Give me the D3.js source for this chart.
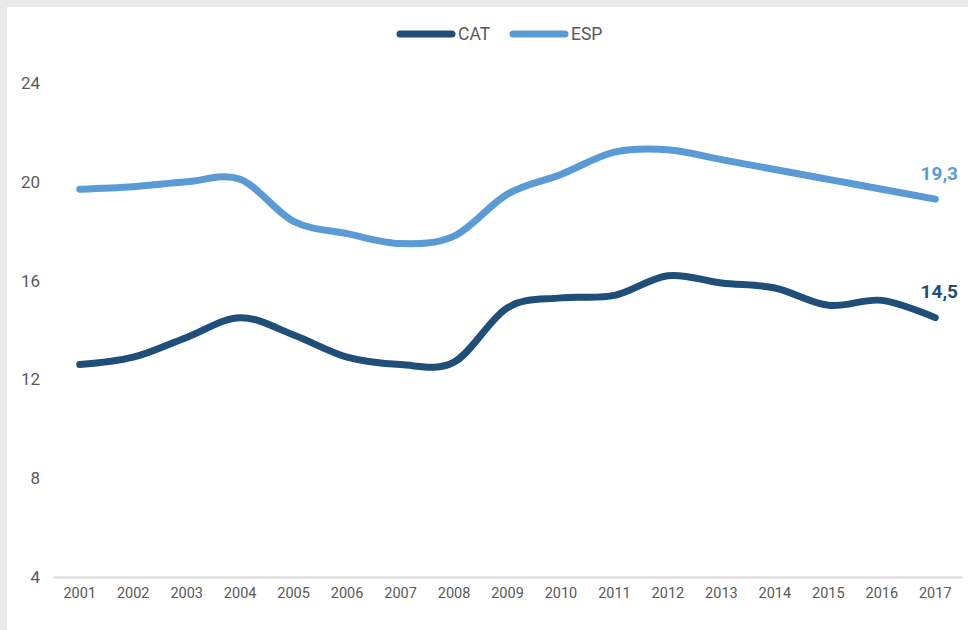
<!DOCTYPE html>
<html>
<head>
<meta charset="utf-8">
<script src="https://cdn.jsdelivr.net/npm/d3@7"></script>
<style>
  html, body { margin: 0; padding: 0; background: #e8eaea; }
  svg { display: block; }
</style>
</head>
<body>
<svg id="chart" width="968" height="630"></svg>
<script>
const years = ["2001","2002","2003","2004","2005","2006","2007","2008","2009","2010","2011","2012","2013","2014","2015","2016","2017"];
const cat = [12.6, 12.9, 13.7, 14.5, 13.8, 12.9, 12.6, 12.7, 14.9, 15.3, 15.4, 16.2, 15.9, 15.7, 15.0, 15.2, 14.5];
const esp = [19.7, 19.8, 20.0, 20.1, 18.4, 17.9, 17.5, 17.8, 19.5, 20.3, 21.2, 21.3, 20.9, 20.5, 20.1, 19.7, 19.3];
const yTicks = [4, 8, 12, 16, 20, 24];
const seriesNames = ["CAT", "ESP"];
const colors = ["#1f4e79", "#5b9bd5"];

const svg = d3.select("#chart");
const W = 968, H = 630;
const font = "Roboto, 'DejaVu Sans', sans-serif";

// white plotting card with gray strips at top/left
svg.append("rect").attr("x", 7).attr("y", 7).attr("width", W - 7).attr("height", H - 7).attr("fill", "#ffffff");

const x = d3.scaleBand().domain(years).range([53, 962]);
const y = d3.scaleLinear().domain([4, 24]).range([577, 83]);
const cx = d => x(d) + x.bandwidth() / 2;

// y axis labels (no axis line)
const yAxis = d3.axisLeft(y).tickValues(yTicks).tickSize(0).tickPadding(0);
const yg = svg.append("g").attr("transform", "translate(40,0)").call(yAxis);
yg.select(".domain").remove();
yg.selectAll("text").attr("font-family", font).attr("font-size", 17).attr("fill", "#595959");

// x axis
const xAxis = d3.axisBottom(x).tickSize(0).tickPadding(11);
const xg = svg.append("g").attr("transform", "translate(0,577)").call(xAxis);
xg.select(".domain").attr("stroke", "#d9d9d9").attr("stroke-width", 2);
xg.selectAll("text").attr("font-family", font).attr("font-size", 14.5).attr("fill", "#595959");

// smoothed lines
const line = d3.line()
  .x((d, i) => cx(years[i]))
  .y(d => y(d))
  .curve(d3.curveCardinal.tension(0));

[cat, esp].forEach((vals, k) => {
  svg.append("path")
    .datum(vals)
    .attr("d", line)
    .attr("fill", "none")
    .attr("stroke", colors[k])
    .attr("stroke-width", 7)
    .attr("stroke-linecap", "round")
    .attr("stroke-linejoin", "round");
});

// end-value labels
const last = years.length - 1;
[[esp, 1, -19], [cat, 0, -20]].forEach(([vals, k, dy]) => {
  svg.append("text")
    .attr("x", 958)
    .attr("y", y(vals[last]) + dy)
    .attr("text-anchor", "end")
    .attr("font-family", font)
    .attr("font-size", 19)
    .attr("font-weight", "bold")
    .attr("fill", colors[k])
    .text(d3.format(".1f")(vals[last]).replace(".", ","));
});

// legend
const legend = [{x: 397, tx: 458}, {x: 510, tx: 571}];
seriesNames.forEach((name, k) => {
  const g = svg.append("g");
  g.append("line")
    .attr("x1", legend[k].x + 3).attr("x2", legend[k].x + 55)
    .attr("y1", 34).attr("y2", 34)
    .attr("stroke", colors[k]).attr("stroke-width", 7).attr("stroke-linecap", "round");
  g.append("text")
    .attr("x", legend[k].tx).attr("y", 40)
    .attr("font-family", font).attr("font-size", 17.5).attr("fill", "#595959")
    .text(name);
});
</script>
</body>
</html>
